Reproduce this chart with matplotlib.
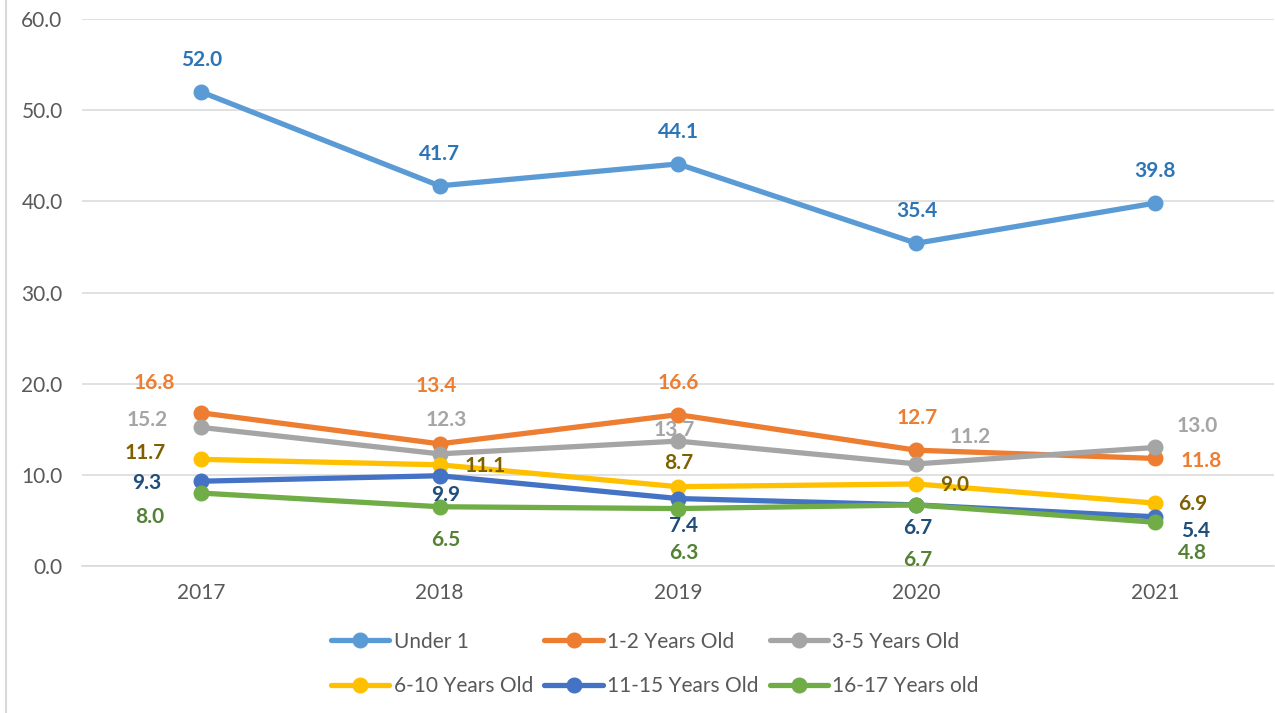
import matplotlib
matplotlib.use("Agg")
import matplotlib.pyplot as plt
from matplotlib.lines import Line2D

years = ["2017", "2018", "2019", "2020", "2021"]
series_names = ["Under 1", "1-2 Years Old", "3-5 Years Old",
                "6-10 Years Old", "11-15 Years Old", "16-17 Years old"]
under_1 = [52.0, 41.7, 44.1, 35.4, 39.8]
age_1_2 = [16.8, 13.4, 16.6, 12.7, 11.8]
age_3_5 = [15.2, 12.3, 13.7, 11.2, 13.0]
age_6_10 = [11.7, 11.1, 8.7, 9.0, 6.9]
age_11_15 = [9.3, 9.9, 7.4, 6.7, 5.4]
age_16_17 = [8.0, 6.5, 6.3, 6.7, 4.8]
y_ticks = [0, 10, 20, 30, 40, 50, 60]

series_values = [under_1, age_1_2, age_3_5, age_6_10, age_11_15, age_16_17]
line_colors = ["#5B9BD5", "#ED7D31", "#A5A5A5", "#FFC000", "#4472C4", "#70AD47"]
label_colors = ["#2E75B6", "#ED7D31", "#A5A5A5", "#7F6000", "#1F4E79", "#548235"]

# label offsets in pixels (dx, dy up)
label_offsets = [
    [(0, 32), (0, 32), (0, 32), (0, 32), (0, 32)],
    [(-47, 30), (-3, 58), (0, 32), (1, 32), (46, -3)],
    [(-54, 7), (7, 34), (-4, 11), (54, 27), (42, 21)],
    [(-56, 6), (46, -1), (1, 24), (38, -1), (38, -1)],
    [(-54, -2), (6, -19), (5, -27), (1, -23), (41, -14)],
    [(-52, -24), (6, -33), (6, -44), (1, -55), (38, -31)],
]

W, H = 1275, 713
fig = plt.figure(figsize=(W / 100, H / 100), dpi=100)
ax = fig.add_axes([82 / W, (H - 566) / H, (1274 - 82) / W, (566 - 19) / H])

FONT = "Lato"
FS = 15
x = list(range(len(years)))

handles = []
for vals, name, lc, tc, offs in zip(series_values, series_names, line_colors,
                                    label_colors, label_offsets):
    h, = ax.plot(x, vals, color=lc, lw=3.8, marker="o", markersize=10.5,
                 label=name, solid_capstyle="round", zorder=3)
    handles.append(h)
    for xi, v, (dx, dy) in zip(x, vals, offs):
        ax.annotate(f"{v:.1f}", (xi, v), xytext=(dx, dy),
                    textcoords="offset pixels", ha="center", va="center",
                    color=tc, fontsize=FS, fontweight="bold", family=FONT,
                    zorder=4)

ax.set_xlim(-0.5, 4.5)
ax.set_ylim(0, 60)
ax.set_yticks(y_ticks)
ax.set_yticklabels([f"{t:.1f}" for t in y_ticks])
ax.set_xticks(x)
ax.set_xticklabels(years)
ax.grid(axis="y", color="#D9D9D9", lw=1.1, zorder=0)
ax.set_axisbelow(True)
for s in ["top", "right", "left"]:
    ax.spines[s].set_visible(False)
ax.spines["bottom"].set_color("#D9D9D9")
ax.spines["bottom"].set_linewidth(1.1)
ax.tick_params(axis="both", length=0, labelcolor="#595959", labelsize=FS)
ax.tick_params(axis="y", pad=14)
ax.tick_params(axis="x", pad=12)
for lab in ax.get_xticklabels() + ax.get_yticklabels():
    lab.set_family(FONT)

order = [0, 3, 1, 4, 2, 5]
leg = fig.legend([handles[i] for i in order], [series_names[i] for i in order],
                 ncol=3, loc="center", bbox_to_anchor=(655 / W, 1 - 664 / H),
                 frameon=False, handlelength=2.8, handletextpad=0.2,
                 columnspacing=0.55, labelspacing=1.2, borderpad=0,
                 prop={"family": FONT, "size": FS})
for t in leg.get_texts():
    t.set_color("#595959")

fig.add_artist(Line2D([6 / W, 6 / W], [0, 1], color="#D9D9D9", lw=1.5,
                      transform=fig.transFigure))

fig.savefig("out.png", dpi=100, facecolor="white")
